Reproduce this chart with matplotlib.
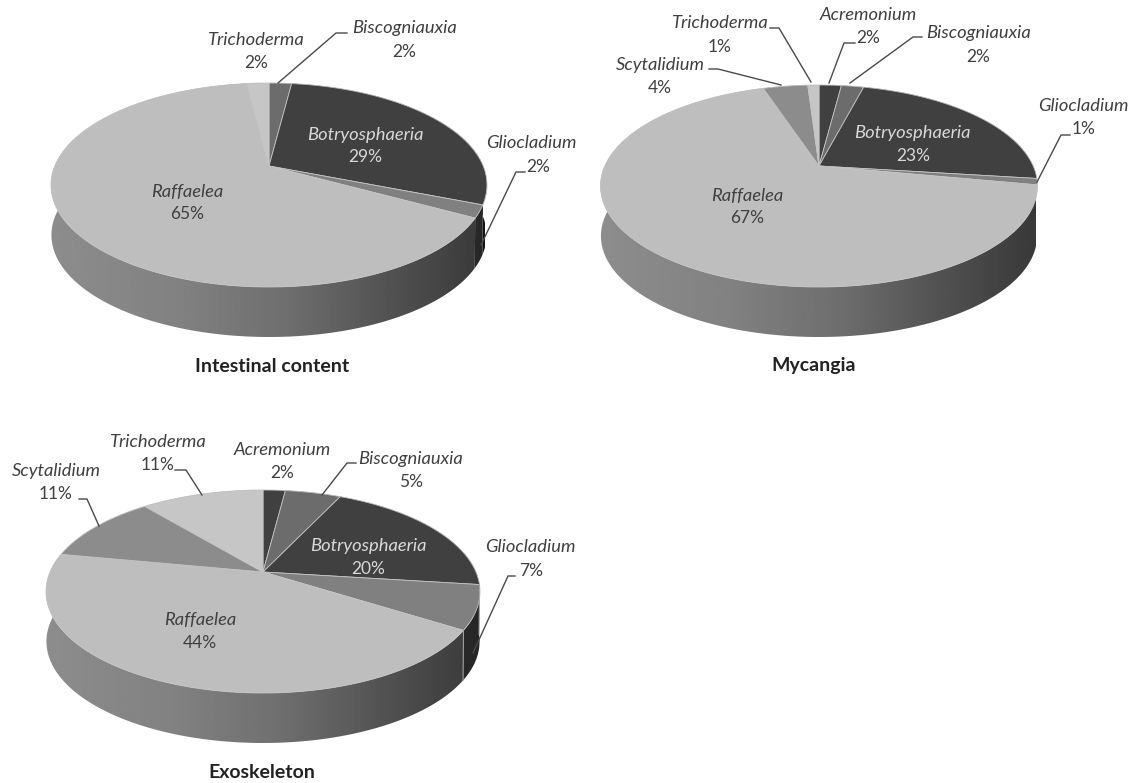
import numpy as np
import matplotlib
matplotlib.use('Agg')
import matplotlib.pyplot as plt
from matplotlib.patches import Polygon

plt.rcParams['font.family'] = ['Lato', 'DejaVu Sans']

# percentages per sample, clockwise from twelve o'clock
intestinal_names = ['Biscogniauxia', 'Botryosphaeria', 'Gliocladium', 'Raffaelea', 'Trichoderma']
intestinal_values = [2, 29, 2, 65, 2]

mycangia_names = ['Acremonium', 'Biscogniauxia', 'Botryosphaeria', 'Gliocladium', 'Raffaelea',
                  'Scytalidium', 'Trichoderma']
mycangia_values = [2, 2, 23, 1, 67, 4, 1]

exoskeleton_names = ['Acremonium', 'Biscogniauxia', 'Botryosphaeria', 'Gliocladium', 'Raffaelea',
                     'Scytalidium', 'Trichoderma']
exoskeleton_values = [2, 5, 20, 7, 44, 11, 11]

# fill grey for each fungus
greys = {'Acremonium': 0x40, 'Biscogniauxia': 0x6c, 'Botryosphaeria': 0x40, 'Gliocladium': 0x80,
         'Raffaelea': 0xbe, 'Scytalidium': 0x8c, 'Trichoderma': 0xc6}

DEPTH = 50


def project(f, apex, left, right, top, bottom, drop=0.0, shrink=1.0):
    # perspective view of a point on the rim, f is the fraction of the way round
    t = 2 * np.pi * np.asarray(f, dtype=float)
    d_top = apex[1] - top
    d_bot = bottom - apex[1]
    k = (d_bot - d_top) / (d_bot + d_top)
    b = d_top * (1 + k)
    a = (right - left) / 2 * np.sqrt(1 - k ** 2)
    w = 1 + k * np.cos(t)
    return apex[0] + shrink * a * np.sin(t) / w, apex[1] - b * np.cos(t) / w + drop


def draw_pie(ax, names, values, apex, left, right, top, bottom):
    geom = (apex, left, right, top, bottom)
    edges = np.cumsum([0] + list(values)) / float(sum(values))

    # side wall, a left to right shading clipped to each slice
    s = np.linspace(0, 1, 256)
    shade = np.interp(s, [0, 0.3, 0.55, 0.8, 1], [0.74, 0.68, 0.58, 0.42, 0.30])
    for i, name in enumerate(names):
        fr = np.linspace(edges[i], edges[i + 1], max(int(values[i] * 4), 3) + 1)
        xt, yt = project(fr, *geom)
        xb, yb = project(fr, *geom, drop=DEPTH, shrink=0.998)
        pts = list(zip(xt, yt)) + list(zip(xb[::-1], yb[::-1]))
        clip = Polygon(pts, closed=True, facecolor='none', edgecolor='none', transform=ax.transData)
        ax.add_patch(clip)
        im = ax.imshow((shade * greys[name] / 255)[np.newaxis, :], cmap='gray', vmin=0, vmax=1, aspect='auto',
                       extent=(left, right, bottom + DEPTH, top), interpolation='bilinear')
        im.set_clip_path(clip)

    # boundary on the front of the wall, only next to a wide enough slice
    for i in range(1, len(values)):
        f = edges[i]
        if np.cos(2 * np.pi * f) < -0.1 and min(values[i - 1], values[i]) >= 5:
            x0, y0 = project(f, *geom)
            x1, y1 = project(f, *geom, drop=DEPTH, shrink=0.998)
            ax.plot([x0, x1], [y0, y1], color='#a8a8a8', linewidth=0.7)

    # top face
    for i, name in enumerate(names):
        fr = np.linspace(edges[i], edges[i + 1], max(int(values[i] * 4), 3) + 1)
        xs, ys = project(fr, *geom)
        pts = [apex] + list(zip(xs, ys))
        g = greys[name] / 255
        ax.add_patch(Polygon(pts, closed=True, facecolor=(g, g, g), edgecolor='#c4c4c4', linewidth=0.6))


def draw_label(ax, name, value, x1, y1, x2, y2, color='#404040'):
    ax.text(x1, y1, name, style='italic', fontsize=13.2, color=color, ha='center', va='center')
    ax.text(x2, y2, f'{value}%', fontsize=12.5, color=color, ha='center', va='center')


fig = plt.figure(figsize=(11.36, 7.83), dpi=100)
ax = fig.add_axes([0, 0, 1, 1])

draw_pie(ax, intestinal_names, intestinal_values, (269, 166), 49, 485, 83, 287)
draw_pie(ax, mycangia_names, mycangia_values, (819, 166), 599, 1036, 85, 287)
draw_pie(ax, exoskeleton_names, exoskeleton_values, (263, 572), 46, 480, 490, 693)

# name and percentage anchors, one row per slice
intestinal_spots = [(404, 28, 404, 52), (365, 135, 365, 157), (531, 143, 538, 167),
                    (187, 192, 187, 214), (256, 40, 256, 63)]
mycangia_spots = [(868, 15, 868, 38), (978, 33, 978, 57), (912, 133, 913, 156), (1083, 106, 1084, 129),
                  (747, 196, 747, 218), (660, 65, 660, 88), (720, 23, 720, 47)]
exoskeleton_spots = [(282, 450, 282, 473), (410, 459, 411, 482), (368, 546, 368, 569), (530, 547, 531, 571),
                     (200, 620, 200, 643), (56, 471, 56, 494), (158, 442, 158, 465)]

for names, values, spots in [(intestinal_names, intestinal_values, intestinal_spots),
                             (mycangia_names, mycangia_values, mycangia_spots),
                             (exoskeleton_names, exoskeleton_values, exoskeleton_spots)]:
    for name, value, spot in zip(names, values, spots):
        color = '#d8d8d8' if name == 'Botryosphaeria' else '#404040'
        draw_label(ax, name, value, *spot, color=color)

# leader lines
leaders = [
    [(347, 33), (336, 33), (278, 83)],
    [(525, 172), (516, 172), (481, 245)],
    [(770, 28), (779, 28), (811, 82)],
    [(855, 43), (844, 43), (829, 83)],
    [(922, 37), (913, 37), (850, 83)],
    [(709, 69), (718, 69), (781, 85)],
    [(1070, 135), (1061, 135), (1037, 182)],
    [(175, 470), (186, 470), (202, 495)],
    [(79, 499), (87, 499), (99, 526)],
    [(356, 463), (347, 463), (322, 495)],
    [(515, 576), (508, 576), (473, 653)],
]
for line in leaders:
    xs, ys = zip(*line)
    ax.plot(xs, ys, color='#4a4a4a', linewidth=1.0)

ax.text(272, 366, 'Intestinal content', fontsize=14, fontweight='bold', color='#222222', ha='center', va='center')
ax.text(814, 366, 'Mycangia', fontsize=14, fontweight='bold', color='#222222', ha='center', va='center')
ax.text(262, 772, 'Exoskeleton', fontsize=14, fontweight='bold', color='#222222', ha='center', va='center')

ax.set_xlim(0, 1136)
ax.set_ylim(783, 0)
ax.axis('off')

fig.savefig('out.png', dpi=100)
